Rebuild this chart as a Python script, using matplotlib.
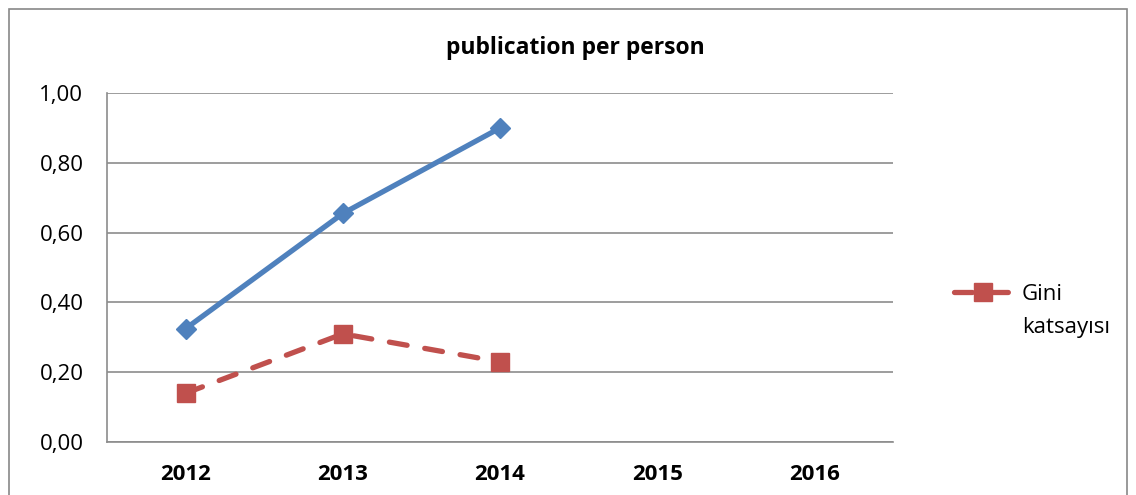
import matplotlib
matplotlib.use("Agg")
from matplotlib import pyplot as plt
from matplotlib.patches import Rectangle

years = ["2012", "2013", "2014", "2015", "2016"]
pub_per_person = [0.325, 0.655, 0.90]
gini = [0.14, 0.31, 0.23]
y_ticks = [0.0, 0.2, 0.4, 0.6, 0.8, 1.0]

plt.rcParams["font.family"] = ["Open Sans", "DejaVu Sans"]

fig = plt.figure(figsize=(11.36, 4.95), dpi=100)
ax = fig.add_axes([0.0942, 0.107, 0.6920, 0.705])

# outer chart border (bottom edge is cut off in the reference)
fig.patches.append(Rectangle((9 / 1136, -0.05), 1118 / 1136, 1.05 - 9 / 495,
                             transform=fig.transFigure, fill=False,
                             edgecolor="#888888", linewidth=1.2))

x = list(range(len(years)))
ax.plot(x[:len(pub_per_person)], pub_per_person, color="#4F81BD", linewidth=3.8,
        marker="D", markersize=10, label="_nolegend_", solid_capstyle="round")
ax.plot(x[:len(gini)], gini, color="#C0504D", linewidth=3.8, linestyle=(0, (3.4, 3.4)),
        marker="s", markersize=13, label="Gini", dash_capstyle="round")

ax.set_xlim(-0.5, len(years) - 0.5)
ax.set_ylim(0, 1.0)
ax.set_xticks(x)
ax.set_xticklabels(years, fontweight="bold", fontsize=16)
ax.set_yticks(y_ticks)
ax.set_yticklabels([f"{v:.2f}".replace(".", ",") for v in y_ticks], fontsize=16)
ax.tick_params(length=0)
ax.tick_params(axis="x", pad=16)
ax.tick_params(axis="y", pad=17)

ax.grid(axis="y", color="#8C8C8C", linewidth=1.2)
ax.set_axisbelow(True)
for s in ["top", "right"]:
    ax.spines[s].set_visible(False)
for s in ["left", "bottom"]:
    ax.spines[s].set_color("#8C8C8C")
    ax.spines[s].set_linewidth(1.2)

fig.text(575 / 1136, 1 - 48 / 495, "publication per person", ha="center", va="center",
         fontsize=16.5, fontweight="bold")

# legend: "Gini katsayısı" wraps, marker sits on the first line like Excel
leg = fig.legend(loc="center left", bbox_to_anchor=(934 / 1136, 1 - 294 / 495),
                 frameon=False, fontsize=16, handlelength=2.6, handletextpad=0.45)
fig.canvas.draw()
bb = leg.get_texts()[0].get_window_extent()
fig.text(bb.x0 / 1136, (bb.y0 - 34) / 495, "katsayısı", fontsize=16, ha="left",
         va="bottom")

plt.savefig("out.png", dpi=100)
